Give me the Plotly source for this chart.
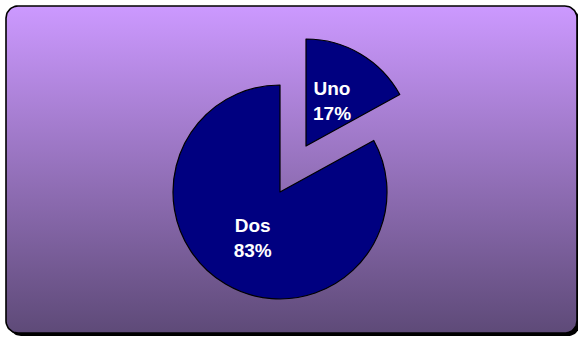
import numpy as np
import plotly.graph_objects as go

# Slice data
labels = ["Uno", "Dos"]
values = [17, 83]
slice_color = "#000080"

W, H = 578, 337

# Panel geometry (pixels, y downward)
PANEL = (6, 6, 577, 333)
RADIUS = 12
SHADOW_OFFSET = 3
TOP_COLOR = "#CC99FF"
BOTTOM_COLOR = "#5E4A78"

# Pie geometry: main body and the exploded "Uno" wedge
PIE_R = 107
BODY_CENTER = (280, 192)
WEDGE_CENTER = (306, 146)
WEDGE_LABEL_POS = (332, 101)


def rounded_rect(x0, y0, x1, y1, r, n=14):
    pts = []
    corners = [(x1 - r, y0 + r, -90, 0), (x1 - r, y1 - r, 0, 90),
               (x0 + r, y1 - r, 90, 180), (x0 + r, y0 + r, 180, 270)]
    for cx, cy, a0, a1 in corners:
        for t in np.linspace(np.radians(a0), np.radians(a1), n):
            pts.append((cx + r * np.cos(t), cy + r * np.sin(t)))
    pts.append(pts[0])
    xs, ys = zip(*pts)
    return list(xs), list(ys)


def domain_for(center, r):
    cx, cy = center
    return dict(x=[(cx - r) / W, (cx + r) / W],
                y=[(H - cy - r) / H, (H - cy + r) / H])


fig = go.Figure()

# Drop shadow
sx, sy = rounded_rect(PANEL[0] + SHADOW_OFFSET, PANEL[1] + SHADOW_OFFSET,
                      PANEL[2] + SHADOW_OFFSET, PANEL[3] + SHADOW_OFFSET, RADIUS)
fig.add_trace(go.Scatter(x=sx, y=sy, mode="lines", fill="toself",
                         fillcolor="black", line=dict(width=0, color="black"),
                         hoverinfo="skip", showlegend=False))

# Gradient panel
px, py = rounded_rect(*PANEL, RADIUS)
fig.add_trace(go.Scatter(
    x=px, y=py, mode="lines", fill="toself",
    fillgradient=dict(type="vertical", start=PANEL[1], stop=PANEL[3],
                      colorscale=[[0, TOP_COLOR], [1, BOTTOM_COLOR]]),
    line=dict(width=1.6, color="black"),
    hoverinfo="skip", showlegend=False))

clear = "rgba(0,0,0,0)"
label_font = dict(family="Liberation Sans, Arial, sans-serif", size=19,
                  color="white", weight="bold")

# Main body: the "Dos" slice
fig.add_trace(go.Pie(
    labels=labels, values=values, sort=False, direction="clockwise",
    rotation=0, domain=domain_for(BODY_CENTER, PIE_R),
    marker=dict(colors=[clear, slice_color],
                line=dict(color="black", width=[0, 1.2])),
    texttemplate=["", "%{label}<br>%{percent}"],
    textposition="inside", insidetextorientation="horizontal",
    textfont=label_font, hoverinfo="skip", showlegend=False))

# Exploded "Uno" slice (its label is placed separately below)
fig.add_trace(go.Pie(
    labels=labels, values=values, sort=False, direction="clockwise",
    rotation=0, domain=domain_for(WEDGE_CENTER, PIE_R),
    marker=dict(colors=[slice_color, clear],
                line=dict(color="black", width=[1.2, 0])),
    textinfo="none", hoverinfo="skip", showlegend=False))

uno_pct = round(100 * values[0] / sum(values))
fig.add_annotation(
    x=WEDGE_LABEL_POS[0], y=WEDGE_LABEL_POS[1], xref="x", yref="y",
    text=f"{labels[0]}<br>{uno_pct}%", showarrow=False,
    font=label_font, align="center")

fig.update_layout(
    width=W, height=H, margin=dict(l=0, r=0, t=0, b=0),
    paper_bgcolor="white", plot_bgcolor="rgba(0,0,0,0)",
    xaxis=dict(range=[0, W], visible=False, fixedrange=True),
    yaxis=dict(range=[H, 0], visible=False, fixedrange=True),
    showlegend=False,
)

fig.write_html("out.html")
